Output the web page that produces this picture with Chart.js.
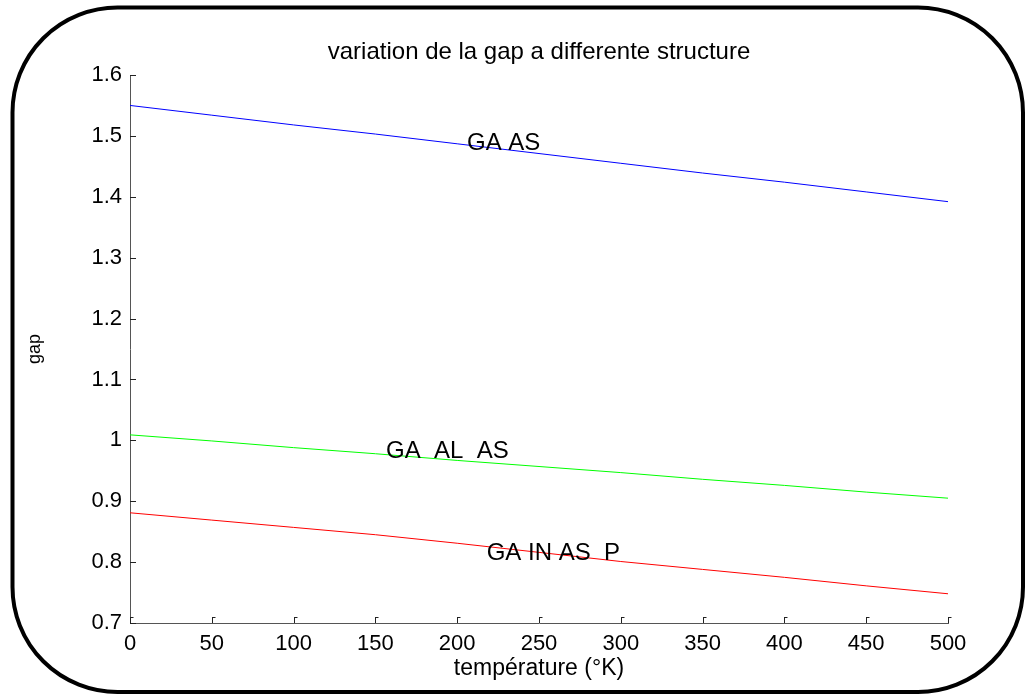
<!DOCTYPE html>
<html><head><meta charset="utf-8">
<script src="https://cdn.jsdelivr.net/npm/chart.js@4.4.1/dist/chart.umd.min.js"></script>
<style>html,body{margin:0;padding:0;background:#fff;}canvas{display:block;}</style>
</head><body>
<canvas id="c" width="1026" height="695"></canvas>
<script>
const temperatures = [0, 50, 100, 150, 200, 250, 300, 350, 400, 450, 500];
const gapGaAs = [1.550, 1.534, 1.518, 1.503, 1.487, 1.471, 1.455, 1.439, 1.424, 1.408, 1.392];
const gapGaAlAs = [1.009, 0.999, 0.988, 0.978, 0.967, 0.957, 0.947, 0.936, 0.926, 0.915, 0.905];
const gapGaInAsP = [0.881, 0.869, 0.857, 0.845, 0.831, 0.816, 0.801, 0.788, 0.775, 0.761, 0.748];
const xTickValues = [0, 50, 100, 150, 200, 250, 300, 350, 400, 450, 500];
const xTickLabels = ['0', '50', '100', '150', '200', '250', '300', '350', '400', '450', '500'];
const yTickValues = [0.7, 0.8, 0.9, 1.0, 1.1, 1.2, 1.3, 1.4, 1.5, 1.6];
const yTickLabels = ['0.7', '0.8', '0.9', '1', '1.1', '1.2', '1.3', '1.4', '1.5', '1.6'];
const labelTexts = ['GA AS', 'GA  AL  AS', 'GA IN AS  P'];
const labelT = [206, 156.5, 218];
const labelGap = [1.488, 0.982, 0.815];

const FONT = '"Liberation Sans", Arial, sans-serif';

const toPoints = arr => temperatures.map((t, i) => ({x: t, y: arr[i]}));

const decorPlugin = {
  id: 'decor',
  afterDatasetsDraw(chart) {
    const ctx = chart.ctx;
    const xs = chart.scales.x, ys = chart.scales.y;
    const ca = chart.chartArea;
    ctx.save();
    // inward tick marks
    ctx.strokeStyle = '#222';
    ctx.lineWidth = 1;
    ctx.beginPath();
    xTickValues.forEach(v => {
      const px = Math.round(xs.getPixelForValue(v)) + 0.5;
      ctx.moveTo(px, ca.bottom);
      ctx.lineTo(px, ca.bottom - 6);
      ctx.moveTo(px, ca.bottom - 5.5);
      ctx.lineTo(px + 3, ca.bottom - 5.5);
    });
    yTickValues.forEach(v => {
      const py = Math.round(ys.getPixelForValue(v)) + 0.5;
      ctx.moveTo(ca.left, py);
      ctx.lineTo(ca.left + 6, py);
    });
    ctx.stroke();
    // text annotations
    ctx.fillStyle = '#000';
    ctx.font = '24px ' + FONT;
    ctx.textAlign = 'left';
    ctx.textBaseline = 'middle';
    labelTexts.forEach((t, i) => {
      ctx.fillText(t, xs.getPixelForValue(labelT[i]), ys.getPixelForValue(labelGap[i]));
    });
    ctx.restore();
  },
  afterDraw(chart) {
    const ctx = chart.ctx;
    ctx.save();
    ctx.strokeStyle = '#000';
    ctx.lineWidth = 4;
    ctx.beginPath();
    ctx.roundRect(12.5, 7.5, 1010.5, 684.5, 105);
    ctx.stroke();
    ctx.restore();
  }
};

new Chart(document.getElementById('c'), {
  type: 'line',
  data: {
    datasets: [
      {data: toPoints(gapGaAs), borderColor: '#0000ff', borderWidth: 1, pointRadius: 0, fill: false, tension: 0},
      {data: toPoints(gapGaAlAs), borderColor: '#00ff00', borderWidth: 1, pointRadius: 0, fill: false, tension: 0},
      {data: toPoints(gapGaInAsP), borderColor: '#ff0000', borderWidth: 1, pointRadius: 0, fill: false, tension: 0}
    ]
  },
  options: {
    responsive: false,
    animation: false,
    layout: {padding: {left: 0, right: 78, top: 0, bottom: 0}},
    plugins: {
      legend: {display: false},
      tooltip: {enabled: false},
      title: {
        display: true,
        text: 'variation de la gap a differente structure',
        color: '#000',
        font: {family: FONT, size: 24, weight: 'normal'},
        padding: {top: 38, bottom: 8.2},
        fullSize: false
      }
    },
    scales: {
      x: {
        type: 'linear', min: 0, max: 500,
        afterBuildTicks: s => { s.ticks = xTickValues.map(v => ({value: v})); },
        ticks: {
          color: '#000', font: {family: FONT, size: 22}, padding: 8,
          maxRotation: 0, autoSkip: false,
          callback: (v, i) => xTickLabels[i]
        },
        grid: {display: false, drawTicks: false},
        border: {display: true, color: '#555', width: 1},
        title: {display: true, text: 'température (°K)', color: '#000',
          font: {family: FONT, size: 23}, padding: {top: 0, bottom: 13}},
        afterFit: s => { s.height = 72; }
      },
      y: {
        type: 'linear', min: 0.7, max: 1.6,
        afterBuildTicks: s => { s.ticks = yTickValues.map(v => ({value: v})); },
        ticks: {
          color: '#000', font: {family: FONT, size: 22}, padding: 8,
          autoSkip: false,
          callback: (v, i) => yTickLabels[i]
        },
        grid: {display: false, drawTicks: false},
        border: {display: true, color: '#555', width: 1},
        title: {display: true, text: 'gap', color: '#000',
          font: {family: FONT, size: 18}, padding: {top: 24, bottom: 0}},
        afterFit: s => { s.width = 130; }
      }
    }
  },
  plugins: [decorPlugin]
});
</script>
</body></html>
